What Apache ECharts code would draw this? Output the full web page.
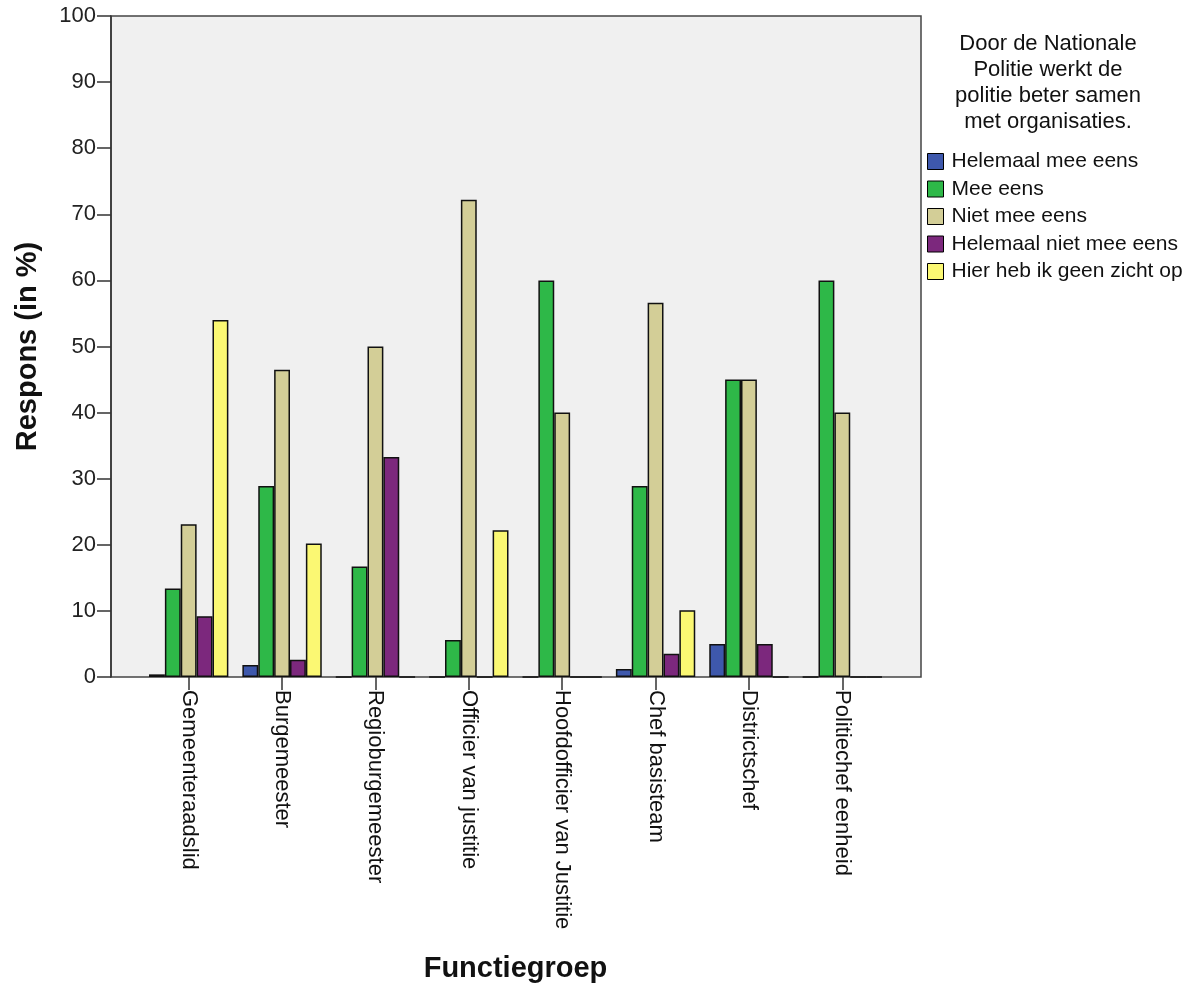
<!DOCTYPE html>
<html><head><meta charset="utf-8">
<script src="https://cdn.jsdelivr.net/npm/echarts@6/dist/echarts.min.js"></script>
<style>html,body{margin:0;padding:0;background:#fff}#c{width:1199px;height:986px}</style>
</head><body><div id="c"></div>
<script>
const categories = ['Gemeenteraadslid','Burgemeester','Regioburgemeester','Officier van justitie','Hoofdofficier van Justitie','Chef basisteam','Districtschef','Politiechef eenheid'];
const seriesNames = ['Helemaal mee eens','Mee eens','Niet mee eens','Helemaal niet mee eens','Hier heb ik geen zicht op'];
const helemaalMeeEens = [0.4, 1.8, 0, 0, 0, 1.2, 5.0, 0];
const meeEens = [13.4, 28.9, 16.7, 5.6, 60.0, 28.9, 45.0, 60.0];
const nietMeeEens = [23.1, 46.5, 50.0, 72.2, 40.0, 56.6, 45.0, 40.0];
const helemaalNietMeeEens = [9.2, 2.6, 33.3, 0, 0, 3.5, 5.0, 0];
const geenZicht = [54.0, 20.2, 0, 22.2, 0, 10.1, 0, 0];
const yTicks = [0,10,20,30,40,50,60,70,80,90,100];
const colors = ['#3e58ac','#2eb848','#d3ce97','#7c287d','#fbf873'];
const allData = [helemaalMeeEens, meeEens, nietMeeEens, helemaalNietMeeEens, geenZicht];

const chart = echarts.init(document.getElementById('c'));
const font = 'Liberation Sans, Arial, sans-serif';
chart.setOption({
  animation: false,
  textStyle: {fontFamily: font},
  grid: [
    {left: 111, right: 278, top: 16, bottom: 309, show: true, backgroundColor: '#f0f0f0', borderColor: '#444', borderWidth: 1.5, containLabel: false, outerBoundsMode: 'none'},
    {left: 142, right: 310, top: 16, bottom: 309, show: false, containLabel: false, outerBoundsMode: 'none'}
  ],
  legend: {
    orient: 'vertical', left: 922, top: 146, itemWidth: 16, itemHeight: 16, itemGap: 6.5,
    icon: 'rect', data: seriesNames,
    textStyle: {fontSize: 21, color: '#111', fontFamily: font, lineHeight: 16, padding: [0,0,0,3]},
    itemStyle: {borderColor: '#000', borderWidth: 1}
  },
  graphic: [{
    type: 'text', x: 1048, y: 31,
    style: {text: 'Door de Nationale\nPolitie werkt de\npolitie beter samen\nmet organisaties.', textAlign: 'center',
      font: '22px ' + font, fill: '#111', lineHeight: 26}
  }],
  xAxis: [
    {type: 'value', gridIndex: 0, min: 0, max: 1, show: false},
    {
      type: 'category', gridIndex: 1, data: categories,
      name: 'Functiegroep', nameLocation: 'middle', nameGap: 277,
      nameTextStyle: {fontSize: 29, fontWeight: 'bold', color: '#111', fontFamily: font},
      axisLine: {show: false},
      axisTick: {show: true, alignWithLabel: true, length: 13, lineStyle: {color: '#333', width: 1.5}},
      axisLabel: {rotate: -90, fontSize: 22, color: '#111', margin: 13, fontFamily: font}
    }
  ],
  yAxis: [
    {
      type: 'value', gridIndex: 0, min: 0, max: 100, interval: 10,
      name: 'Respons (in %)', nameLocation: 'middle', nameGap: 69,
      nameTextStyle: {fontSize: 29, fontWeight: 'bold', color: '#111', fontFamily: font},
      splitLine: {show: false},
      axisLine: {show: true, lineStyle: {color: '#333', width: 1.5}},
      axisTick: {show: true, length: 14, lineStyle: {color: '#333', width: 1.5}},
      axisLabel: {fontSize: 22, color: '#222', margin: 15, fontFamily: font,
        formatter: v => yTicks.includes(v) ? String(v) : ''}
    },
    {type: 'value', gridIndex: 1, min: 0, max: 100, show: false}
  ],
  series: seriesNames.map((n, i) => ({
    name: n, type: 'bar', data: allData[i], xAxisIndex: 1, yAxisIndex: 1,
    barGap: '0%', barCategoryGap: '15%',
    itemStyle: {color: colors[i], borderColor: '#111', borderWidth: 1.5}
  }))
});
</script></body></html>
